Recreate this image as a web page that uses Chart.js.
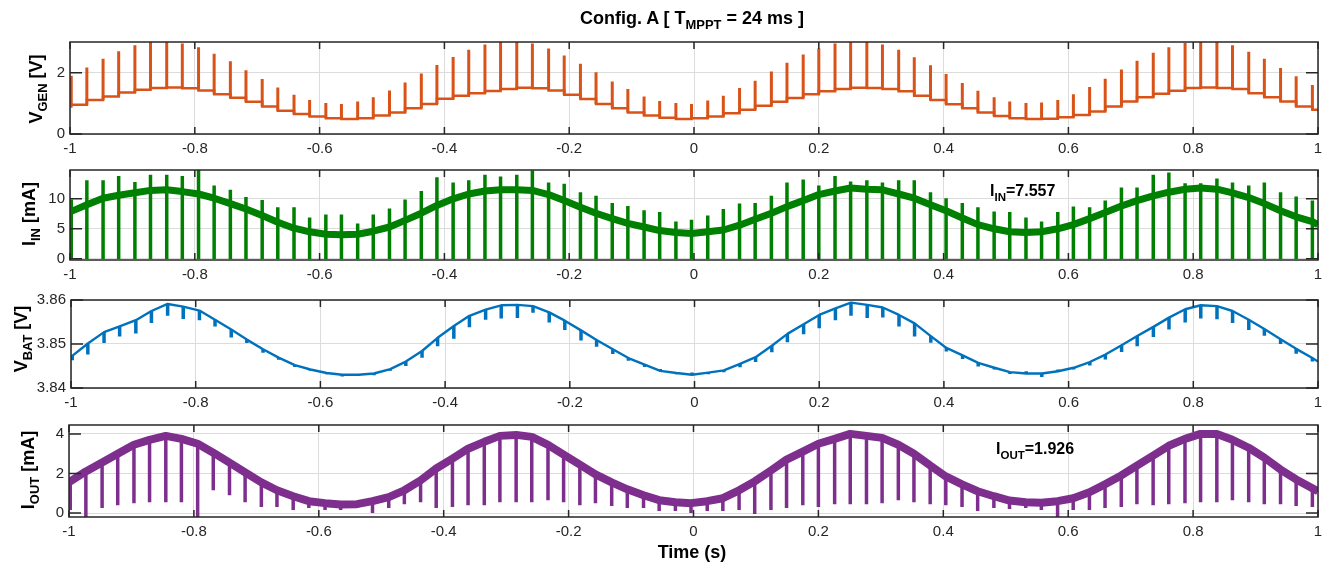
<!DOCTYPE html>
<html>
<head>
<meta charset="utf-8">
<script src="https://cdn.jsdelivr.net/npm/chart.js@4/dist/chart.umd.min.js"></script>
<style>
  html, body { margin: 0; padding: 0; background: #fff; }
  body { width: 1341px; height: 568px; position: relative; overflow: hidden;
         font-family: "Liberation Sans", Arial, sans-serif; color: #000; }
  canvas { position: absolute; left: 0; top: 0; }
  .lbl { position: absolute; font-weight: bold; white-space: nowrap; line-height: 1; }
  .lbl sub { font-size: 0.72em; vertical-align: -0.4em; line-height: 0; }
  .ylab { transform: translate(-50%, -50%) rotate(-90deg); font-size: 18px; }
</style>
</head>
<body>
<canvas id="c1" width="1341" height="568"></canvas>
<canvas id="c2" width="1341" height="568"></canvas>
<canvas id="c3" width="1341" height="568"></canvas>
<canvas id="c4" width="1341" height="568"></canvas>

<div class="lbl" style="left:692px; top:9px; transform:translateX(-50%); font-size:18px;">Config. A [ T<sub>MPPT</sub> = 24 ms ]</div>
<div class="lbl ylab" style="left:36px; top:89px;">V<sub>GEN</sub> [V]</div>
<div class="lbl ylab" style="left:29px; top:214px;">I<sub>IN</sub> [mA]</div>
<div class="lbl ylab" style="left:21px; top:339px;">V<sub>BAT</sub> [V]</div>
<div class="lbl ylab" style="left:28px; top:470px;">I<sub>OUT</sub> [mA]</div>
<div class="lbl" style="left:990px; top:183px; font-size:16px;">I<sub>IN</sub>=7.557</div>
<div class="lbl" style="left:996px; top:441px; font-size:16px;">I<sub>OUT</sub>=1.926</div>
<div class="lbl" style="left:692px; top:543px; transform:translateX(-50%); font-size:18px;">Time (s)</div>

<script>
// MPPT events (s), shared by all four traces
const spikeTimes = [
  -0.998, -0.973, -0.947, -0.922, -0.896, -0.871, -0.845, -0.820, -0.794, -0.769,
  -0.743, -0.718, -0.692, -0.667, -0.641, -0.616, -0.590, -0.565, -0.539, -0.514,
  -0.488, -0.463, -0.437, -0.412, -0.386, -0.361, -0.335, -0.310, -0.284, -0.259,
  -0.233, -0.208, -0.182, -0.157, -0.131, -0.106, -0.080, -0.055, -0.029, -0.004,
  0.022, 0.047, 0.073, 0.098, 0.124, 0.149, 0.175, 0.200, 0.226, 0.251,
  0.277, 0.302, 0.328, 0.353, 0.379, 0.404, 0.430, 0.455, 0.481, 0.506,
  0.532, 0.557, 0.583, 0.608, 0.634, 0.659, 0.685, 0.710, 0.736, 0.761,
  0.787, 0.812, 0.838, 0.863, 0.889, 0.914, 0.940, 0.965, 0.991
];
const xTicks = [-1, -0.8, -0.6, -0.4, -0.2, 0, 0.2, 0.4, 0.6, 0.8, 1];

// V_GEN [V]: staircase level after each event, and spike peak
const vgenStart = 0.90;
const vgenLevels = [
  0.95, 1.11, 1.22, 1.35, 1.44, 1.50, 1.52, 1.49, 1.42, 1.30,
  1.18, 1.05, 0.90, 0.76, 0.65, 0.57, 0.51, 0.49, 0.51, 0.60,
  0.70, 0.84, 0.98, 1.15, 1.25, 1.33, 1.40, 1.47, 1.51, 1.49,
  1.42, 1.28, 1.14, 0.98, 0.84, 0.70, 0.60, 0.53, 0.49, 0.51,
  0.57, 0.68, 0.79, 0.92, 1.05, 1.17, 1.30, 1.39, 1.47, 1.51,
  1.50, 1.47, 1.39, 1.25, 1.11, 0.97, 0.84, 0.70, 0.59, 0.51,
  0.49, 0.50, 0.55, 0.62, 0.73, 0.90, 1.06, 1.20, 1.31, 1.41,
  1.50, 1.52, 1.50, 1.47, 1.33, 1.20, 1.06, 0.90, 0.79
];
const vgenPeaks = [
  1.90, 2.17, 2.45, 2.70, 2.89, 3.10, 3.10, 2.95, 2.83, 2.62,
  2.37, 2.08, 1.79, 1.52, 1.28, 1.11, 1.01, 0.98, 1.06, 1.20,
  1.42, 1.68, 1.97, 2.25, 2.51, 2.75, 2.92, 3.10, 3.10, 2.95,
  2.79, 2.56, 2.29, 2.01, 1.71, 1.47, 1.22, 1.08, 1.01, 0.98,
  1.09, 1.25, 1.50, 1.74, 2.04, 2.32, 2.59, 2.79, 2.95, 3.10,
  3.10, 2.92, 2.75, 2.50, 2.24, 1.96, 1.66, 1.41, 1.20, 1.06,
  1.01, 1.03, 1.11, 1.30, 1.53, 1.80, 2.10, 2.39, 2.65, 2.83,
  2.97, 3.10, 3.10, 2.89, 2.68, 2.45, 2.15, 1.88, 1.60
];

// I_IN [mA]: band centre at each event, spike top, spike floor
const iinStart = 7.8, iinEnd = 5.7, iinFloor = -0.05;
const iinBase = [
  7.9, 9.0, 10.1, 10.6, 11.0, 11.4, 11.5, 11.2, 10.8, 10.1,
  9.2, 8.3, 7.2, 6.1, 5.1, 4.5, 4.1, 4.0, 4.1, 4.6,
  5.3, 6.4, 7.6, 8.9, 10.0, 10.8, 11.3, 11.5, 11.5, 11.4,
  10.7, 9.7, 8.6, 7.6, 6.7, 5.9, 5.3, 4.7, 4.4, 4.2,
  4.5, 4.8, 5.6, 6.6, 7.6, 8.7, 9.7, 10.7, 11.3, 11.8,
  11.6, 11.5, 10.8, 10.1, 9.0, 8.0, 6.8, 5.7, 5.0, 4.5,
  4.4, 4.5, 5.0, 5.7, 6.7, 7.7, 8.8, 9.7, 10.5, 11.1,
  11.6, 11.8, 11.6, 11.0, 10.2, 9.2, 8.0, 7.0, 6.2
];
const iinTops = [
  9.9, 13.1, 13.1, 13.8, 12.8, 14.0, 14.0, 13.8, 15.5, 12.2,
  11.5, 10.3, 9.8, 8.6, 8.6, 6.9, 7.4, 7.4, 5.9, 7.4,
  8.4, 9.9, 11.3, 13.6, 12.7, 13.1, 14.0, 13.7, 14.0, 14.7,
  12.7, 12.5, 11.1, 10.5, 9.3, 8.8, 8.1, 7.8, 6.2, 6.5,
  7.2, 8.3, 9.2, 9.3, 10.5, 12.7, 13.2, 12.2, 13.8, 12.9,
  13.1, 12.7, 13.1, 13.1, 11.1, 10.1, 9.3, 8.6, 7.9, 7.8,
  6.9, 6.2, 7.8, 8.7, 8.6, 9.7, 11.9, 11.9, 14.0, 14.4,
  12.6, 12.6, 13.4, 12.7, 12.2, 12.7, 11.1, 10.4, 9.7
];

// V_BAT [V]: level at each event and notch depth (negative = bump up)
const vbatStart = 3.8471, vbatEnd = 3.8460;
const vbatBase = [
  3.8473, 3.8501, 3.8527, 3.8540, 3.8554, 3.8575, 3.8591, 3.8585, 3.8576, 3.8555,
  3.8533, 3.8510, 3.8488, 3.8469, 3.8452, 3.8442, 3.8434, 3.8430, 3.8430, 3.8433,
  3.8443, 3.8460, 3.8484, 3.8514, 3.8541, 3.8564, 3.8578, 3.8588, 3.8589, 3.8586,
  3.8572, 3.8553, 3.8531, 3.8509, 3.8488, 3.8468, 3.8453, 3.8439, 3.8434, 3.8430,
  3.8435, 3.8440, 3.8455, 3.8470, 3.8496, 3.8523, 3.8545, 3.8566, 3.8581, 3.8594,
  3.8589, 3.8583, 3.8566, 3.8547, 3.8518, 3.8491, 3.8474, 3.8457, 3.8446, 3.8436,
  3.8433, 3.8433, 3.8438, 3.8446, 3.8459, 3.8476, 3.8497, 3.8518, 3.8539, 3.8560,
  3.8579, 3.8588, 3.8586, 3.8575, 3.8555, 3.8534, 3.8511, 3.8489, 3.8468
];
const vbatDips = [
  0.0010, 0.0025, 0.0025, 0.0023, 0.0030, 0.0027, 0.0027, 0.0028, 0.0022, 0.0015,
  0.0018, 0.0008, 0.0008, 0.0005, 0.0004, 0.0003, 0.0003, 0.0004, 0.0003, 0.0004,
  0.0004, 0.0010, 0.0015, 0.0019, 0.0029, 0.0026, 0.0023, 0.0030, 0.0030, 0.0015,
  0.0023, 0.0021, 0.0023, 0.0015, 0.0011, 0.0006, 0.0005, -0.0004, 0.0003, -0.0005,
  0.0004, 0.0004, 0.0008, 0.0011, 0.0015, 0.0019, 0.0023, 0.0030, 0.0027, 0.0030,
  0.0030, 0.0023, 0.0026, 0.0030, 0.0015, 0.0008, 0.0008, 0.0008, 0.0004, 0.0004,
  -0.0005, 0.0008, -0.0004, 0.0004, 0.0008, 0.0011, 0.0015, 0.0023, 0.0023, 0.0027,
  0.0030, 0.0030, 0.0030, 0.0027, 0.0023, 0.0015, 0.0011, 0.0011, 0.0008
];

// I_OUT [mA]: band centre at each event and spike bottom
const ioutStart = 1.6, ioutEnd = 1.1;
const ioutBase = [
  1.60, 2.10, 2.55, 3.00, 3.45, 3.70, 3.90, 3.75, 3.50, 3.05,
  2.55, 2.05, 1.55, 1.15, 0.85, 0.60, 0.50, 0.43, 0.45, 0.60,
  0.80, 1.15, 1.65, 2.25, 2.75, 3.25, 3.60, 3.90, 3.95, 3.85,
  3.45, 2.95, 2.45, 1.95, 1.55, 1.20, 0.90, 0.65, 0.55, 0.50,
  0.60, 0.75, 1.15, 1.60, 2.15, 2.70, 3.10, 3.50, 3.75, 4.00,
  3.90, 3.80, 3.45, 3.00, 2.40, 1.85, 1.45, 1.10, 0.85, 0.63,
  0.55, 0.52, 0.60, 0.75, 1.05, 1.45, 1.90, 2.40, 2.90, 3.40,
  3.75, 4.00, 4.00, 3.70, 3.30, 2.80, 2.20, 1.70, 1.25
];
const ioutLows = [
  0.15, -0.30, 0.25, 0.40, 0.50, 0.55, 0.55, 0.55, -0.30, 1.15,
  0.90, 0.55, 0.30, 0.30, 0.15, 0.25, 0.15, 0.15, 0.25, 0.00,
  0.25, 0.45, 0.55, 0.25, 0.30, 0.40, 0.40, 0.55, 0.55, 0.55,
  0.65, 0.55, 0.40, 0.50, 0.35, 0.25, 0.25, 0.10, 0.10, 0.00,
  0.10, 0.10, 0.15, -0.05, 0.15, 0.25, 0.40, 0.30, 0.45, 0.45,
  0.45, 0.50, 0.65, 0.55, 0.45, 0.40, 0.30, 0.10, 0.25, 0.20,
  0.25, 0.15, -0.30, 0.15, 0.15, 0.25, 0.30, 0.45, 0.40, 0.45,
  0.50, 0.55, 0.55, 0.65, 0.55, 0.45, 0.45, 0.35, 0.30
];

const FONT = '"Liberation Sans", Arial, sans-serif';
const AXIS = '#262626';
const GRID = '#dcdcdc';
const W = 1341, H = 568;

// base trace: start point, one point per event, end point
function trace(start, vals, end) {
  const pts = [{x: -1, y: start}];
  spikeTimes.forEach((t, i) => pts.push({x: t, y: vals[i]}));
  pts.push({x: 1, y: end});
  return pts;
}
// vertical segments at each event, separated by gaps
function spikes(lo, hi) {
  const pts = [];
  spikeTimes.forEach((t, i) => {
    pts.push({x: t, y: lo(i)}, {x: t, y: hi(i)}, {x: t, y: null});
  });
  return pts;
}

const framePlugin = {
  id: 'frame',
  afterDatasetsDraw(chart) {
    const {ctx, chartArea: a} = chart;
    const xs = chart.scales.x, ys = chart.scales.y;
    ctx.save();
    ctx.strokeStyle = AXIS;
    ctx.lineWidth = 1.5;
    ctx.beginPath();
    xs.ticks.forEach(tk => {
      const px = xs.getPixelForValue(tk.value);
      ctx.moveTo(px, a.bottom); ctx.lineTo(px, a.bottom - 7);
      ctx.moveTo(px, a.top); ctx.lineTo(px, a.top + 7);
    });
    ys.ticks.forEach(tk => {
      const py = ys.getPixelForValue(tk.value);
      ctx.moveTo(a.left, py); ctx.lineTo(a.left + 12, py);
      ctx.moveTo(a.right, py); ctx.lineTo(a.right - 12, py);
    });
    ctx.stroke();
    ctx.strokeRect(a.left, a.top, a.right - a.left, a.bottom - a.top);
    ctx.restore();
  }
};

function panel(id, area, yMin, yMax, yTicks, yFmt, datasets) {
  datasets.forEach(d => Object.assign(d, {
    pointRadius: 0, fill: false, tension: 0, clip: 0, spanGaps: false
  }));
  return new Chart(document.getElementById(id), {
    type: 'line',
    data: {datasets},
    options: {
      responsive: false,
      animation: false,
      events: [],
      layout: {padding: {
        left: area.left - 40, right: W - area.right,
        top: area.top, bottom: H - area.bottom - 30
      }},
      plugins: {legend: {display: false}, tooltip: {enabled: false}},
      scales: {
        x: {
          type: 'linear', min: -1, max: 1,
          afterBuildTicks: s => { s.ticks = xTicks.map(v => ({value: v})); },
          afterFit: s => { s.height = 30; },
          grid: {color: GRID, drawTicks: false},
          border: {display: false},
          ticks: {
            padding: 6, color: AXIS, font: {family: FONT, size: 15},
            maxRotation: 0, autoSkip: false,
            callback: v => String(Math.round(v * 10) / 10)
          }
        },
        y: {
          type: 'linear', min: yMin, max: yMax,
          afterBuildTicks: s => { s.ticks = yTicks.map(v => ({value: v})); },
          afterFit: s => { s.width = 40; },
          grid: {color: GRID, drawTicks: false},
          border: {display: false},
          ticks: {padding: 5, color: AXIS, font: {family: FONT, size: 15}, callback: yFmt}
        }
      }
    },
    plugins: [framePlugin]
  });
}

const ORANGE = '#D95319', GREEN = '#008000', BLUE = '#0072BD', PURPLE = '#7E2F8E';

panel('c1', {left: 70, right: 1318, top: 42, bottom: 134}, 0, 3, [0, 2], v => String(v), [
  {data: trace(vgenStart, vgenLevels, vgenLevels[vgenLevels.length - 1]),
   stepped: true, borderColor: ORANGE, borderWidth: 2.5},
  {data: spikes(i => Math.min(i ? vgenLevels[i - 1] : vgenStart, vgenLevels[i]), i => vgenPeaks[i]),
   borderColor: ORANGE, borderWidth: 3}
]);

panel('c2', {left: 70, right: 1318, top: 170, bottom: 260}, -0.2, 14.8, [0, 5, 10], v => String(v), [
  {data: trace(iinStart, iinBase, iinEnd), borderColor: GREEN, borderWidth: 7, borderJoinStyle: 'round'},
  {data: spikes(() => iinFloor, i => iinTops[i]), borderColor: GREEN, borderWidth: 3.5}
]);

panel('c3', {left: 71, right: 1318, top: 300, bottom: 388}, 3.84, 3.86, [3.84, 3.85, 3.86], v => v.toFixed(2), [
  {data: trace(vbatStart, vbatBase, vbatEnd), borderColor: BLUE, borderWidth: 2.4, borderJoinStyle: 'round'},
  {data: spikes(i => vbatBase[i], i => vbatBase[i] - vbatDips[i]), borderColor: BLUE, borderWidth: 3.5}
]);

panel('c4', {left: 69, right: 1318, top: 425, bottom: 517}, -0.2, 4.45, [0, 2, 4], v => String(v), [
  {data: trace(ioutStart, ioutBase, ioutEnd), borderColor: PURPLE, borderWidth: 8, borderJoinStyle: 'round'},
  {data: spikes(i => ioutBase[i], i => ioutLows[i]), borderColor: PURPLE, borderWidth: 3.5}
]);
</script>
</body>
</html>
